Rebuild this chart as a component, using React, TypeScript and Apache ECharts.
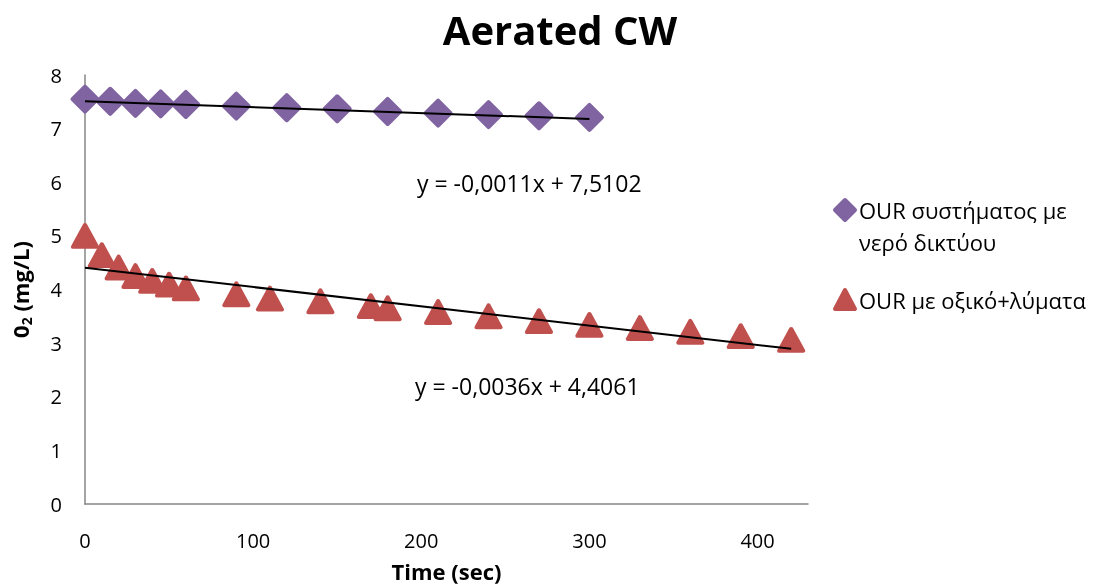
import React, { useEffect, useRef } from "react";
import * as echarts from "echarts";

const titleText = "Aerated CW";
const xAxisTitle = "Time (sec)";
const seriesNames = ["OUR συστήματος με\nνερό δικτύου", "OUR με οξικό+λύματα"];

const waterTimes = [0, 15, 30, 45, 60, 90, 120, 150, 180, 210, 240, 270, 300];
const waterO2 = [7.55, 7.51, 7.47, 7.46, 7.45, 7.42, 7.39, 7.37, 7.32, 7.29, 7.26, 7.24, 7.21];

const acetTimes = [0, 10, 20, 30, 40, 50, 60, 90, 110, 140, 170, 180, 210, 240, 270, 300, 330, 360, 390, 420];
const acetO2 = [5.0, 4.64, 4.41, 4.25, 4.16, 4.09, 4.02, 3.91, 3.83, 3.78, 3.69, 3.65, 3.58, 3.5, 3.41, 3.34, 3.28, 3.21, 3.13, 3.06];

const waterFit = { slope: -0.0011, intercept: 7.5102, label: "y = -0,0011x + 7,5102" };
const acetFit = { slope: -0.0036, intercept: 4.4061, label: "y = -0,0036x + 4,4061" };

const PURPLE = "#8064A2";
const RED = "#C0504D";
const FONT = "'Open Sans', 'Noto Sans', sans-serif";

export default function App() {
  const ref = useRef<HTMLDivElement>(null);
  useEffect(() => {
    if (!ref.current) return;
    const chart = echarts.init(ref.current, undefined, { renderer: "svg" });
    const fitLine = (f: { slope: number; intercept: number }, xs: number[]) => {
      const x0 = xs[0];
      const x1 = xs[xs.length - 1];
      return [
        [x0, f.intercept + f.slope * x0],
        [x1, f.intercept + f.slope * x1],
      ];
    };
    chart.setOption({
      animation: false,
      textStyle: { fontFamily: FONT },
      title: {
        text: titleText,
        left: 555,
        textAlign: "center",
        top: 4,
        textStyle: { fontFamily: FONT, fontSize: 40, fontWeight: "bold", color: "#000" },
      },
      grid: { left: 85, right: 294, top: 75, bottom: 78, containLabel: false },
      xAxis: {
        type: "value",
        min: 0,
        max: 430,
        interval: 100,
        name: xAxisTitle,
        nameLocation: "middle",
        nameGap: 56,
        nameTextStyle: { fontFamily: FONT, fontSize: 22, fontWeight: "bold", color: "#000" },
        axisLine: { show: true, lineStyle: { color: "#868686", width: 1.5 } },
        axisTick: { show: false },
        splitLine: { show: false },
        axisLabel: {
          fontFamily: FONT,
          fontSize: 20,
          color: "#000",
          margin: 26,
          formatter: (v: number) => (v % 100 === 0 ? String(v) : ""),
        },
      },
      yAxis: {
        type: "value",
        min: 0,
        max: 8,
        interval: 1,
        name: "0{sub|2} (mg/L)",
        nameLocation: "middle",
        nameRotate: 90,
        nameGap: 52,
        nameTextStyle: {
          fontFamily: FONT,
          fontSize: 22,
          fontWeight: "bold",
          color: "#000",
          rich: {
            sub: { fontFamily: FONT, fontSize: 14, fontWeight: "bold", color: "#000", verticalAlign: "bottom", padding: [12, 0, 0, 0] },
          },
        },
        axisLine: { show: true, lineStyle: { color: "#868686", width: 1.5 } },
        axisTick: { show: false },
        splitLine: { show: false },
        axisLabel: { fontFamily: FONT, fontSize: 20, color: "#000", margin: 23 },
      },
      series: [
        {
          name: seriesNames[0],
          type: "scatter",
          symbol: "diamond",
          symbolSize: 25,
          itemStyle: { color: PURPLE, opacity: 1, borderColor: PURPLE, borderWidth: 4, borderJoin: "round" },
          data: waterTimes.map((t, i) => [t, waterO2[i]]),
          z: 2,
        },
        {
          name: seriesNames[1],
          type: "scatter",
          symbol: "triangle",
          symbolSize: [24, 22],
          itemStyle: { color: RED, opacity: 1, borderColor: RED, borderWidth: 4, borderJoin: "round" },
          data: acetTimes.map((t, i) => [t, acetO2[i]]),
          z: 2,
        },
        {
          type: "line",
          data: fitLine(waterFit, waterTimes),
          symbol: "none",
          lineStyle: { color: "#000", width: 2 },
          z: 3,
          silent: true,
        },
        {
          type: "line",
          data: fitLine(acetFit, acetTimes),
          symbol: "none",
          lineStyle: { color: "#000", width: 2 },
          z: 3,
          silent: true,
        },
      ],
      graphic: [
        {
          type: "text",
          x: 417,
          y: 183,
          style: { text: waterFit.label, fontFamily: FONT, fontSize: 23, fill: "#000", verticalAlign: "middle" },
        },
        {
          type: "text",
          x: 415,
          y: 386,
          style: { text: acetFit.label, fontFamily: FONT, fontSize: 23, fill: "#000", verticalAlign: "middle" },
        },
        {
          type: "polygon",
          shape: { points: [[845, 200], [855, 210], [845, 220], [835, 210]] },
          style: { fill: PURPLE, stroke: PURPLE, lineWidth: 4, lineJoin: "round" },
        },
        {
          type: "text",
          x: 859,
          y: 194,
          style: { text: seriesNames[0], fontFamily: FONT, fontSize: 22, fill: "#000", lineHeight: 32, verticalAlign: "top" },
        },
        {
          type: "polygon",
          shape: { points: [[845, 290], [855, 309], [835, 309]] },
          style: { fill: RED, stroke: RED, lineWidth: 4, lineJoin: "round" },
        },
        {
          type: "text",
          x: 859,
          y: 284,
          style: { text: seriesNames[1], fontFamily: FONT, fontSize: 22, fill: "#000", lineHeight: 32, verticalAlign: "top" },
        },
      ],
    });
    return () => chart.dispose();
  }, []);
  return <div ref={ref} style={{ position: "fixed", left: 0, top: 0, width: 1102, height: 587 }} />;
}
